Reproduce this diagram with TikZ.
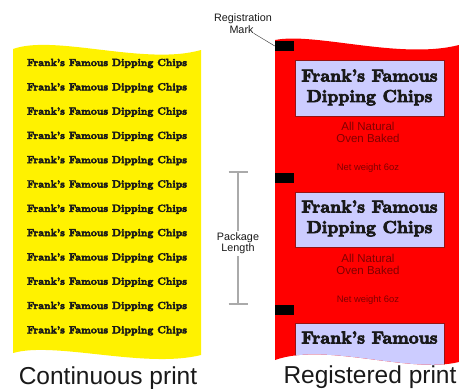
\documentclass[tikz,border=0pt]{standalone}
\usepackage{fontspec}
\setmainfont{Liberation Sans}
\newfontface\fatface{lmroman10-bold.otf}[FakeBold=4.5]
\definecolor{lav}{RGB}{204,204,255}
\definecolor{labred}{RGB}{128,0,0}
\definecolor{boxedge}{RGB}{150,20,20}
\definecolor{dimgray}{RGB}{170,170,170}
\definecolor{ink}{RGB}{25,25,25}
\tikzset{
  ytext/.style={font=\fatface\fontsize{10.3}{11}\selectfont, anchor=base, inner sep=0pt, text=ink},
  ttext/.style={font=\fatface\fontsize{17.3}{19}\selectfont, anchor=base, inner sep=0pt, text=ink},
  lbox/.style={fill=lav, draw=boxedge, line width=0.6pt, minimum width=149pt, inner sep=0pt},
  rtext/.style={font=\fontsize{11.5}{12}\selectfont, anchor=base, inner sep=0pt, text=labred},
  wtext/.style={font=\fontsize{9.4}{10}\selectfont, anchor=base, inner sep=0pt, text=labred},
  regmark/.style={fill=black, minimum width=19pt, minimum height=10pt, inner sep=0pt},
  small/.style={font=\fontsize{10.8}{11}\selectfont, anchor=base, inner sep=0pt, text=ink},
  big/.style={font=\fontsize{24.5}{26}\selectfont, anchor=base, inner sep=0pt, text=ink},
  dim/.style={draw=dimgray, line width=1.1pt},
  leader/.style={draw=black!70, line width=0.5pt}
}
\begin{document}
\begin{tikzpicture}[x=1pt,y=-1pt]
\useasboundingbox (0,0) rectangle (459,389);
% continuous print web
\fill[yellow] (13,49) .. controls (55,34) and (145,66) .. (201,50) -- (201,355)
  .. controls (145,369) and (55,341) .. (13,353) -- cycle;
\foreach \i in {0,...,11}
  \node[ytext] (y\i) at (107,{66+24.3*\i}) {Frank’s Famous Dipping Chips};
% registered print web
\begin{scope}
\clip (275,40) .. controls (315,32) and (400,60) .. (459,45) -- (459,362)
  .. controls (410,374) and (325,342) .. (275,360) -- cycle;
\fill[red] (0,0) rectangle (459,389);
\node[lbox, minimum height=56pt] (b1) at (369.5,88) {};
\node[lbox, minimum height=55pt] (b2) at (369.5,219.5) {};
\node[lbox, minimum height=56pt] (b3) at (369.5,351) {};
\node[ttext] (t1a) at (369.5,81.5) {Frank’s Famous};
\node[ttext] (t1b) at (369.5,102) {Dipping Chips};
\node[ttext] (t2a) at (369.5,212.5) {Frank’s Famous};
\node[ttext] (t2b) at (369.5,233) {Dipping Chips};
\node[ttext] (t3a) at (369.5,343.5) {Frank’s Famous};
\end{scope}
\node[rtext] (n1a) at (368,130.5) {All Natural};
\node[rtext] (n1b) at (368,142.5) {Oven Baked};
\node[wtext] (w1) at (368,170.5) {Net weight 6oz};
\node[rtext] (n2a) at (368,262.5) {All Natural};
\node[rtext] (n2b) at (368,274.5) {Oven Baked};
\node[wtext] (w2) at (368,302.5) {Net weight 6oz};
% registration marks
\node[regmark] (m1) at (284.5,46) {};
\node[regmark] (m2) at (284.5,177.5) {};
\node[regmark] (m3) at (284.5,309.5) {};
\node[small] (r1) at (243,21.5) {Registration};
\node[small] (r2) at (241.5,33) {Mark};
\draw[leader] (r2.south east) -- (m1.west);
% package length dimension
\coordinate (pt) at (238,172);
\coordinate (pb) at (238,304);
\node[small, anchor=center, align=center, inner sep=2pt] (pl) at (238,243.5) {Package\\Length};
\draw[dim] (pt) -- (pl.north);
\draw[dim] (pl.south) -- (pb);
\draw[dim] ([xshift=-9.5pt]pt) -- ([xshift=9.5pt]pt);
\draw[dim] ([xshift=-9.5pt]pb) -- ([xshift=9.5pt]pb);
% captions
\node[big] (cp) at (108,384) {Continuous print};
\node[big] (rp) at (370,383.5) {Registered print};
\end{tikzpicture}
\end{document}
